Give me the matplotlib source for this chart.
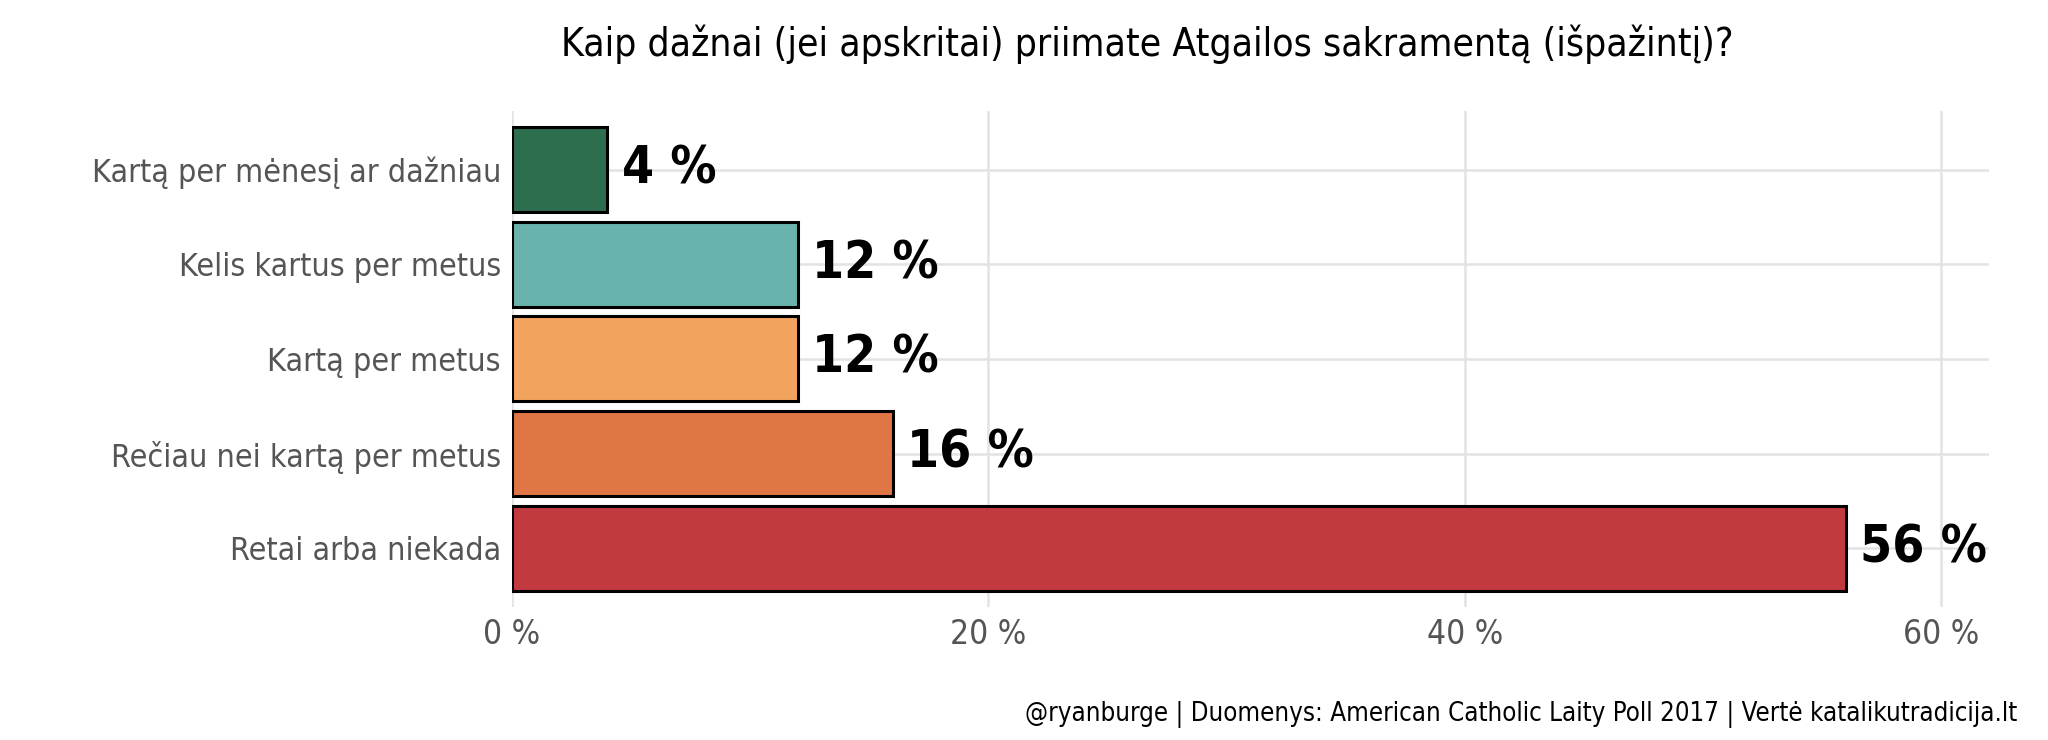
import matplotlib
matplotlib.use("Agg")
import matplotlib.pyplot as plt

plt.rcParams['font.family'] = ["DejaVu Sans"]
plt.rcParams['font.stretch'] = "condensed"

categories = ["Kartą per mėnesį ar dažniau", "Kelis kartus per metus", "Kartą per metus",
              "Rečiau nei kartą per metus", "Retai arba niekada"]
values = [4, 12, 12, 16, 56]
colors = ["#2d6e4e", "#69b3ad", "#f2a45e", "#e07545", "#c23a40"]
xticks = [0, 20, 40, 60]
xticklabels = ["0 %", "20 %", "40 %", "60 %"]

fig = plt.figure(figsize=(20.48, 7.40), dpi=100)
ax = fig.add_axes([0.25, 0.18, 0.721, 0.67])
ys = list(range(len(categories)))
ax.barh(ys, values, height=0.9, color=colors, edgecolor="black", linewidth=2.2, zorder=3)
for y, v in zip(ys, values):
    ax.text(v + 0.6, y, f"{v} %", va="center", ha="left", fontsize=37, fontweight="bold", zorder=4)
ax.set_yticks(ys)
ax.set_yticklabels(categories, fontsize=23, color="#555555")
ax.set_xticks(xticks)
ax.set_xticklabels(xticklabels, fontsize=24, color="#555555")
ax.set_xlim(0, 62)
ax.set_ylim(4.62, -0.62)
ax.grid(True, color="#e3e3e3", linewidth=1.8, zorder=0)
ax.tick_params(length=0, pad=8)
for s in ax.spines.values():
    s.set_visible(False)
fig.text(0.56, 0.94, "Kaip dažnai (jei apskritai) priimate Atgailos sakramentą (išpažintį)?",
         ha="center", va="center", fontsize=28)
fig.text(0.985, 0.035, "@ryanburge | Duomenys: American Catholic Laity Poll 2017 | Vertė katalikutradicija.lt",
         ha="right", va="center", fontsize=18.5)
fig.savefig("out.png", dpi=100)
